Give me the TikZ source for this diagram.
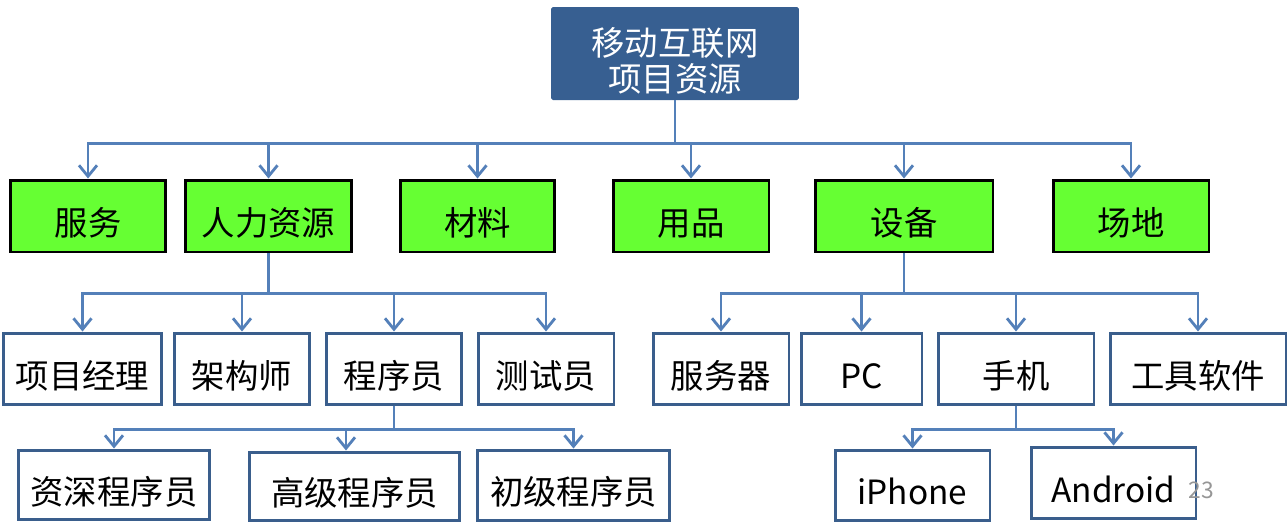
\documentclass[tikz,border=0pt]{standalone}
\usepackage{fontspec}
\setmainfont{Noto Sans CJK SC}
\definecolor{rootblue}{RGB}{55, 95, 145}
\definecolor{limegreen}{RGB}{102, 255, 51}
\definecolor{boxblue}{RGB}{58, 94, 140}
\definecolor{linkblue}{RGB}{84, 128, 185}
\definecolor{pagegray}{RGB}{150, 150, 150}
\usetikzlibrary{arrows.meta,positioning}

\begin{document}
\begin{tikzpicture}[x=0.02cm, y=-0.02cm]
                \tikzstyle{root} = [fill=rootblue, rectangle, rounded corners=1pt, text=white, minimum width=4.96cm, minimum height=1.86cm, inner sep=0pt, align=center, text height=1.57cm, font=\fontsize{19}{20.5}\selectfont]
                \tikzstyle{cat} = [draw=black, line width=1.7pt, fill=limegreen, rectangle, minimum height=1.44cm, inner sep=0pt, text height=0.79cm, text depth=0pt, font=\fontsize{19}{21}\selectfont]
                \tikzstyle{item} = [draw=boxblue, line width=1.7pt, fill=white, rectangle, minimum height=1.42cm, inner sep=0pt, text height=0.79cm, text depth=0pt, font=\fontsize{19}{21}\selectfont]
                \tikzstyle{line} = [draw=linkblue, line width=1.6pt, -{Straight Barb[length=2.2mm,width=3.6mm]}]
                \useasboundingbox (0,0) rectangle (1288,529);

                \node [root] (top) at (675,53.5) {移动互联网\\项目资源};

                % first level
                \node [cat, minimum width=3.12cm] (svc) at (88,216) {服务};
                \node [cat, minimum width=3.34cm] (hr) at (268.5,216) {人力资源};
                \node [cat, minimum width=3.10cm] (mat) at (477.5,216) {材料};
                \node [cat, minimum width=3.12cm] (goods) at (691,216) {用品};
                \node [cat, minimum width=3.56cm] (dev) at (904,216) {设备};
                \node [cat, minimum width=3.12cm] (site) at (1131,216) {场地};

                % second level
                \node [item, minimum width=3.18cm] (pm) at (82.5,368.5) {项目经理};
                \node [item, minimum width=2.72cm] (arch) at (242,368.5) {架构师};
                \node [item, minimum width=2.72cm] (prog) at (394,368.5) {程序员};
                \node [item, minimum width=2.72cm] (test) at (546,368.5) {测试员};
                \node [item, minimum width=2.72cm] (srv) at (721,368.5) {服务器};
                \node [item, minimum width=2.42cm] (pc) at (861.5,368.5) {PC};
                \node [item, minimum width=3.12cm] (phone) at (1016,368.5) {手机};
                \node [item, minimum width=3.52cm] (tools) at (1198,368.5) {工具软件};

                % third level
                \node [item, minimum width=3.84cm, minimum height=1.38cm] (senior) at (114,484.5) {资深程序员};
                \node [item, minimum width=4.22cm, minimum height=1.36cm] (high) at (354.5,486) {高级程序员};
                \node [item, minimum width=3.86cm, minimum height=1.40cm] (junior) at (573.5,485) {初级程序员};
                \node [item, minimum width=3.10cm, minimum height=1.40cm] (iphone) at (912.5,485) {iPhone};
                \node [item, minimum width=3.30cm, minimum height=1.42cm] (android) at (1113.5,482.5) {Android};

                \node [text=pagegray, font=\fontsize{13}{15}\selectfont] (pg) at (1201,490) {23};

                \foreach \c in {svc,hr,mat,goods,dev,site}
                    \path [line] (top.south) -- ++(0,43) -| (\c.north);
                \foreach \c in {pm,arch,prog,test}
                    \path [line] (hr.south) -- ++(0,40) -| (\c.north);
                \foreach \c in {srv,pc,phone,tools}
                    \path [line] (dev.south) -- ++(0,40) -| (\c.north);
                \path [line] (prog.south) -- ++(0,24) -| (senior.north);
                \path [line] (prog.south) -- ++(0,24) -| ([xshift=-0.17cm]high.north);
                \path [line] (prog.south) -- ++(0,24) -| (junior.north);
                \path [line] (phone.south) -- ++(0,24) -| (iphone.north);
                \path [line] (phone.south) -- ++(0,24) -| (android.north);
\end{tikzpicture}
\end{document}
